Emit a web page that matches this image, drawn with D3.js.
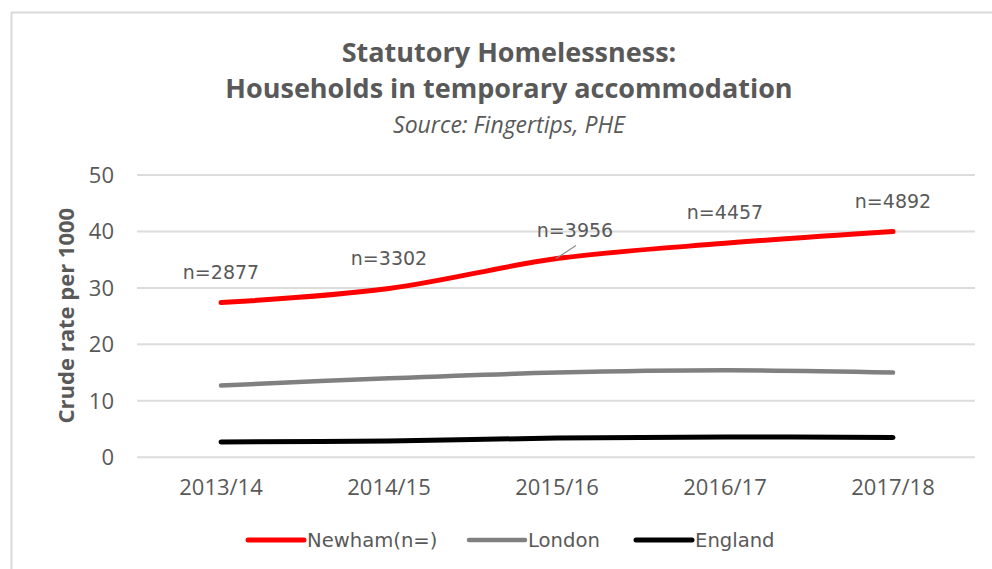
<!DOCTYPE html>
<html>
<head>
<meta charset="utf-8">
<script src="https://cdn.jsdelivr.net/npm/d3@7"></script>
<style>
    body { margin: 0; background: #ffffff; }
    svg { display: block; }
    .tickText { font-family: "Open Sans", sans-serif; fill: #595959; }
</style>
</head>
<body>
<div id="chart"></div>
<script>
const years = ["2013/14", "2014/15", "2015/16", "2016/17", "2017/18"]
const newham = [27.3, 29.8, 35.1, 37.8, 39.9]
const london = [12.6, 13.9, 14.9, 15.3, 14.9]
const england = [2.6, 2.8, 3.3, 3.5, 3.4]
const newhamCounts = ["n=2877", "n=3302", "n=3956", "n=4457", "n=4892"]
const yTicks = [0, 10, 20, 30, 40, 50]

const seriesList = [
    {name: "Newham(n=)", values: newham, color: "#ff0000", width: 5},
    {name: "London", values: london, color: "#808080", width: 4.5},
    {name: "England", values: england, color: "#000000", width: 5}
]

const W = 992, H = 569
const plot = {left: 137, right: 977, top: 174.5, bottom: 456.7}

const svg = d3.select("#chart")
    .append("svg")
    .attr("width", W)
    .attr("height", H)

// chart frame (only top/left edges are visible in the crop)
svg.append("path")
    .attr("d", "M11.5," + H + "V12.5H" + W)
    .attr("fill", "none")
    .attr("stroke", "#d9d9d9")
    .attr("stroke-width", 2)

const x = d3.scaleBand()
    .domain(years)
    .range([plot.left, plot.right])
    .padding(0)

const y = d3.scaleLinear()
    .domain([0, 50])
    .range([plot.bottom, plot.top])

// y axis + gridlines
const yAxis = svg.append("g")
    .attr("transform", "translate(" + plot.left + ",0)")
    .call(d3.axisLeft(y).tickValues(yTicks).tickSize(-(975 - plot.left)).tickPadding(23))
yAxis.select(".domain").remove()
yAxis.selectAll(".tick line")
    .attr("stroke", "#dcdcdc")
    .attr("stroke-width", 2)
yAxis.selectAll(".tick text")
    .attr("class", "tickText")
    .style("font-size", "22px")
    .attr("dy", "0.36em")

// x axis labels
const xAxis = svg.append("g")
    .attr("transform", "translate(0," + plot.bottom + ")")
    .call(d3.axisBottom(x).tickSize(0).tickPadding(0))
xAxis.select(".domain").remove()
xAxis.selectAll(".tick text")
    .attr("class", "tickText")
    .style("font-size", "22px")
    .attr("y", 38)
    .attr("dy", 0)

// lines
const line = d3.line()
    .x((d, i) => x(years[i]) + x.bandwidth() / 2)
    .y(d => y(d))
    .curve(d3.curveCatmullRom.alpha(0))

svg.append("g")
    .selectAll("path")
    .data(seriesList.slice().reverse())
    .enter()
    .append("path")
    .attr("d", d => line(d.values))
    .attr("fill", "none")
    .attr("stroke", d => d.color)
    .attr("stroke-width", d => d.width)
    .attr("stroke-linecap", "round")
    .attr("stroke-linejoin", "round")

// data labels for Newham
const labelShift = [0, 0, 18, 0, 0]
const labels = svg.append("g")
labels.selectAll("text")
    .data(newhamCounts)
    .enter()
    .append("text")
    .attr("x", (d, i) => x(years[i]) + x.bandwidth() / 2 + labelShift[i])
    .attr("y", (d, i) => i === 2 ? y(newham[i]) - 22 : y(newham[i]) - 24)
    .attr("text-anchor", "middle")
    .style("font-family", "'DejaVu Sans', sans-serif")
    .style("font-size", "19px")
    .style("fill", "#595959")
    .text(d => d)

// leader line for the moved label
const cx = x(years[2]) + x.bandwidth() / 2
labels.append("line")
    .attr("x1", cx - 1)
    .attr("y1", y(newham[2]))
    .attr("x2", cx + 19)
    .attr("y2", y(newham[2]) - 13)
    .attr("stroke", "#8c8c8c")
    .attr("stroke-width", 1.2)

// titles
const titles = svg.append("g").attr("text-anchor", "middle")
titles.append("text")
    .attr("x", 509).attr("y", 62)
    .style("font-family", "'Open Sans', sans-serif")
    .style("font-weight", "bold")
    .style("font-size", "27px")
    .style("fill", "#595959")
    .text("Statutory Homelessness:")
titles.append("text")
    .attr("x", 509).attr("y", 98)
    .style("font-family", "'Open Sans', sans-serif")
    .style("font-weight", "bold")
    .style("font-size", "27px")
    .style("fill", "#595959")
    .text("Households in temporary accommodation")
titles.append("text")
    .attr("x", 509).attr("y", 133)
    .style("font-family", "'Open Sans', sans-serif")
    .style("font-style", "italic")
    .style("font-size", "23px")
    .style("fill", "#595959")
    .text("Source: Fingertips, PHE")

// y axis title
svg.append("text")
    .attr("transform", "translate(74," + ((plot.top + plot.bottom) / 2) + ") rotate(-90)")
    .attr("text-anchor", "middle")
    .style("font-family", "'Open Sans', sans-serif")
    .style("font-weight", "bold")
    .style("font-size", "22px")
    .style("fill", "#595959")
    .text("Crude rate per 1000")

// legend
const legendX = [248, 469, 636]
const legend = svg.append("g")
    .selectAll("g")
    .data(seriesList)
    .enter()
    .append("g")
    .attr("transform", (d, i) => "translate(" + legendX[i] + ",540)")
legend.append("line")
    .attr("x1", 0).attr("x2", 56)
    .attr("stroke", d => d.color)
    .attr("stroke-width", d => d.width)
    .attr("stroke-linecap", "round")
legend.append("text")
    .attr("x", 59)
    .attr("y", 7)
    .style("font-family", "'DejaVu Sans', sans-serif")
    .style("font-size", "19.6px")
    .style("fill", "#595959")
    .text(d => d.name)
</script>
</body>
</html>
